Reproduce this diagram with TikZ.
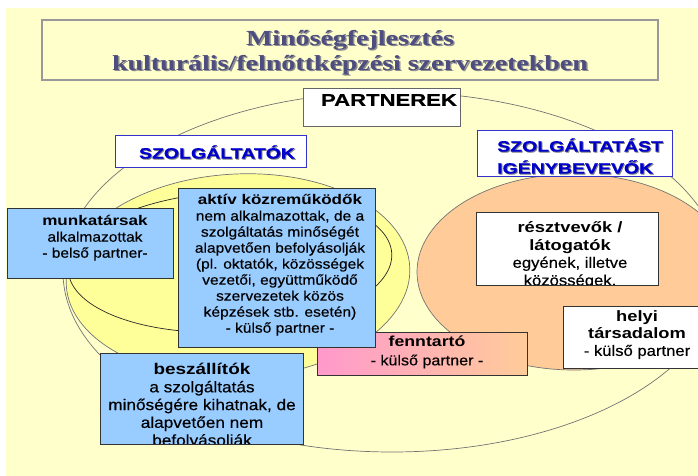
\documentclass[tikz,border=0pt]{standalone}
\usepackage{fontspec}
\setmainfont{Liberation Sans}
\newfontfamily\titlefont{Liberation Serif}[FakeStretch=1.3]
\newfontfamily\rfont{Liberation Sans}[FakeStretch=1.11, FakeBold=0.4]
\newfontfamily\bfont{Liberation Sans}[FakeStretch=1.22]
\newfontfamily\hfont{Liberation Sans}[FakeStretch=1.3, FakeBold=0.6]
\definecolor{bgsarga}{HTML}{FFFFCC}
\definecolor{sarga}{HTML}{FFFF99}
\definecolor{barack}{HTML}{FFCC99}
\definecolor{rozsa}{HTML}{FF99CC}
\definecolor{kek}{HTML}{99CCFF}
\definecolor{sotetkek}{HTML}{0000CC}
\definecolor{keret}{HTML}{3333CC}
\definecolor{cimszin}{HTML}{4D4D80}

\begin{document}
\begin{tikzpicture}[x=1pt,y=-1pt,
        doboz/.style={draw=black!80, line width=0.8pt, inner sep=0pt},
        kekdoboz/.style={doboz, fill=kek},
        feherdoboz/.style={doboz, fill=white},
        fejdoboz/.style={draw=keret, line width=1pt, fill=white, inner sep=0pt},
        szoveg/.style={align=center, inner sep=0pt, font=\rfont\fontsize{14}{16}\selectfont},
        fejszoveg/.style={align=left, inner sep=0pt, font=\hfont\bfseries\fontsize{15}{22}\selectfont},
        vonal/.style={draw=black!55, line width=0.7pt}]
        
        \useasboundingbox (0,0) rectangle (698,476);
        \fill[bgsarga] (6,8) rectangle (698,476);
        
        % cim
        \draw[black!40, line width=1.5pt, fill=bgsarga] (42,20) rectangle (658,80);
        \node[align=center, inner sep=0pt, text=black!45, font=\titlefont\bfseries\fontsize{21.5}{25}\selectfont] (cimarnyek) at (351.5,54) {Minőségfejlesztés\\kulturális/felnőttképzési szervezetekben};
        \node[align=center, inner sep=0pt, text=cimszin, font=\titlefont\bfseries\fontsize{21.5}{25}\selectfont] (cim) at (350,52.5) {Minőségfejlesztés\\kulturális/felnőttképzési szervezetekben};
        
        % ellipszisek
        \draw[vonal] (392,272) ellipse [x radius=329, y radius=180];
        \draw[vonal, fill=barack] (574,272) ellipse [x radius=157, y radius=98];
        \draw[vonal, fill=sarga, rotate around={3:(238,276)}] (238,276) ellipse [x radius=172, y radius=102];
        \draw[black!85, line width=0.7pt, rotate around={3:(230,262)}] (230,262) ellipse [x radius=162, y radius=70];
        
        % fejlecek
        \node[feherdoboz, draw=black!60, minimum width=157pt, minimum height=38pt] (partnerek) at (381.5,107) {};
        \node[inner sep=0pt, font=\hfont\bfseries\fontsize{17}{20}\selectfont] (partnerek-t) at (389,100) {PARTNEREK};
        
        \node[fejdoboz, minimum width=191pt, minimum height=32pt] (szolg) at (210.5,151) {};
        \node[fejszoveg, text=black!50] (szolg-a) at (218,153) {SZOLGÁLTATÓK};
        \node[fejszoveg, text=sotetkek] (szolg-t) at (217,152) {SZOLGÁLTATÓK};
        
        \node[fejdoboz, minimum width=195pt, minimum height=46pt] (igeny) at (574.5,153) {};
        \node[fejszoveg, anchor=west, text=black!50] (igeny-a) at (498,157) {SZOLGÁLTATÁST\\IGÉNYBEVEVŐK};
        \node[fejszoveg, anchor=west, text=sotetkek] (igeny-t) at (497,156) {SZOLGÁLTATÁST\\IGÉNYBEVEVŐK};
        
        % szolgaltatok oldala
        \node[kekdoboz, minimum width=166pt, minimum height=70pt] (munka) at (90,243) {};
        \node[szoveg] (munka-t) at (95,238) {{\bfont\bfseries munkatársak}\\alkalmazottak\\- belső partner-};
        
        \node[doboz, left color=rozsa, right color=barack, minimum width=210pt, minimum height=43pt] (fenntarto) at (422,353.5) {};
        \node[szoveg, font=\rfont\fontsize{14.5}{19}\selectfont] (fenntarto-t) at (427,352) {{\bfont\bfseries fenntartó}\\- külső partner -};
        
        \node[kekdoboz, minimum width=197pt, minimum height=159pt] (aktiv) at (276.5,267.5) {};
        \node[szoveg] (aktiv-t) at (280,265) {{\bfont\bfseries aktív közreműködők}\\nem alkalmazottak, de a\\szolgáltatás minőségét\\alapvetően befolyásolják\\(pl. oktatók, közösségek\\vezetői, együttműködő\\szervezetek közös\\képzések stb. esetén)\\- külső partner -};
        
        \node[kekdoboz, minimum width=203pt, minimum height=91pt] (beszall) at (201.5,398.5) {};
        \begin{scope}
            \clip ([xshift=0.5pt,yshift=0.5pt]beszall.south west) rectangle ([xshift=-0.5pt,yshift=-0.5pt]beszall.north east);
            \node[szoveg, font=\rfont\fontsize{15.5}{17.75}\selectfont] (beszall-t) at (202,406) {{\bfont\bfseries beszállítók}\\a szolgáltatás\\minőségére kihatnak, de\\alapvetően nem\\befolyásolják};
        \end{scope}
        
        % igenybevevok oldala
        \node[feherdoboz, minimum width=182pt, minimum height=73pt] (reszt) at (567,248.5) {};
        \begin{scope}
            \clip ([xshift=0.5pt,yshift=0.5pt]reszt.south west) rectangle ([xshift=-0.5pt,yshift=-0.5pt]reszt.north east);
            \node[szoveg, font=\rfont\fontsize{15}{17.7}\selectfont] (reszt-t) at (570,255) {{\bfont\bfseries résztvevők /}\\{\bfont\bfseries látogatók}\\egyének, illetve\\közösségek.};
        \end{scope}
        
        \node[feherdoboz, minimum width=135pt, minimum height=62pt] (helyi) at (630.5,337) {};
        \node[szoveg, font=\rfont\fontsize{15}{17}\selectfont] (helyi-t) at (637,335) {{\bfont\bfseries helyi}\\{\bfont\bfseries társadalom}\\- külső partner};
\end{tikzpicture}
\end{document}
